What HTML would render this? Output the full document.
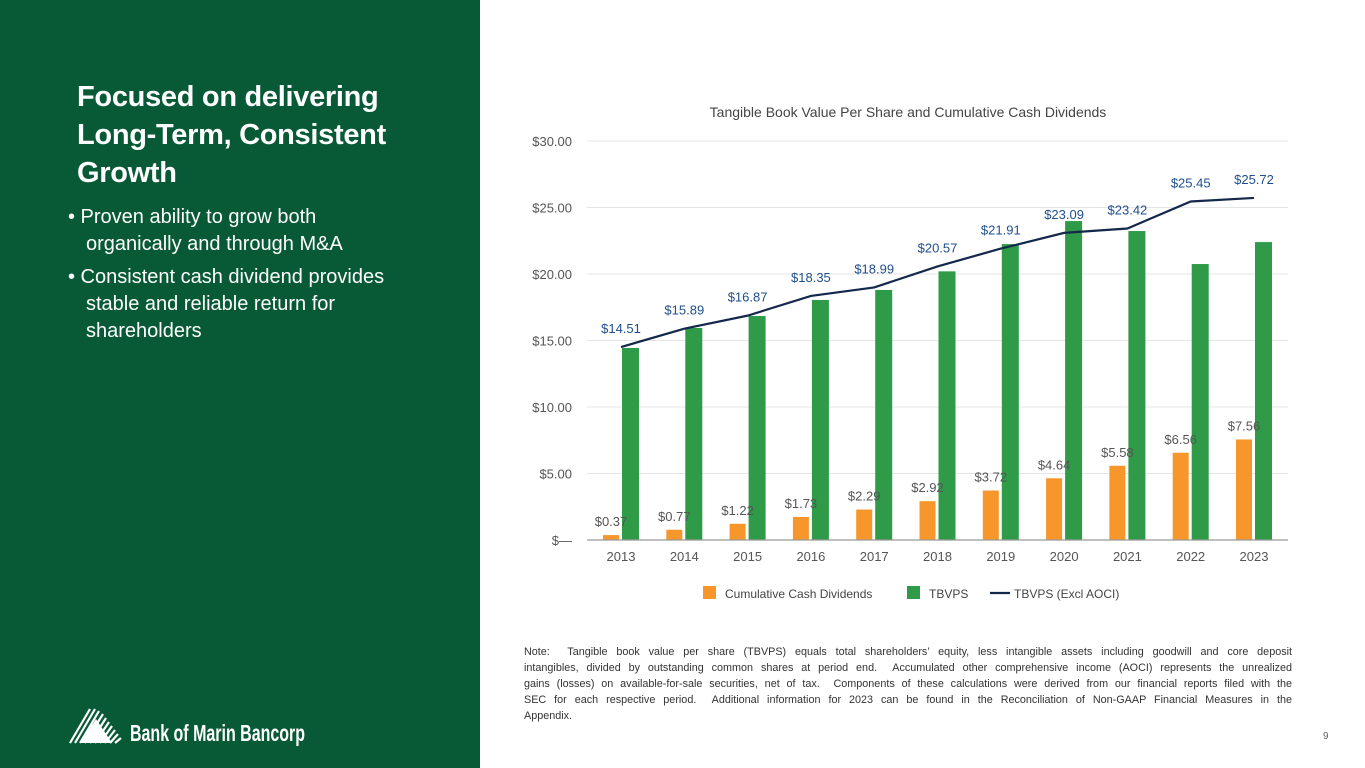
<!DOCTYPE html>
<html><head><meta charset="utf-8"><style>
body{margin:0;width:1365px;height:768px;overflow:hidden;background:#fff;font-family:"Liberation Sans",sans-serif;position:relative}
#panel{position:absolute;left:0;top:0;width:480px;height:768px;background:#085935}
h1{position:absolute;left:77px;top:78px;margin:0;color:#fff;font-size:29px;line-height:38px;font-weight:bold;letter-spacing:-0.3px;width:380px}
ul{position:absolute;left:68px;top:204px;margin:0;padding:0;list-style:none;color:#fff;font-size:20px;line-height:27px;width:400px}
ul li{padding-left:18px;text-indent:-18px;margin-bottom:6px}
#note{position:absolute;left:524px;top:644px;width:768px;font-size:10.8px;line-height:16px;color:#333}
#note div{text-align:justify;text-align-last:justify;white-space:nowrap;overflow:visible}
#note div.last{text-align-last:left}
#pg{position:absolute;left:1323px;top:731px;font-size:10px;color:#666}
#logo{position:absolute;left:68px;top:705px}
</style></head><body>
<div id="panel"></div>
<h1>Focused on delivering Long-Term, Consistent Growth</h1>
<ul>
<li>• Proven ability to grow both<br>organically and through M&amp;A</li>
<li>• Consistent cash dividend provides<br>stable and reliable return for<br>shareholders</li>
</ul>
<svg id="logo" width="250" height="42">
<g stroke="#fff" stroke-width="2.2">
<line x1="2" y1="38" x2="22" y2="4"/><line x1="7" y1="38" x2="27" y2="4"/><line x1="12" y1="38" x2="31" y2="6"/><line x1="17" y1="38" x2="35" y2="9"/><line x1="22" y1="38" x2="38" y2="13"/><line x1="27" y1="38" x2="41" y2="17"/><line x1="32" y1="38" x2="44" y2="21"/><line x1="37" y1="38" x2="47" y2="25"/><line x1="42" y1="38" x2="50" y2="29"/><line x1="47" y1="38" x2="53" y2="33"/>
</g>
<polygon points="12,38 28,14 44,38" fill="#fff"/>
<text x="62" y="36" fill="#fff" font-family="Liberation Sans Narrow, Liberation Sans, sans-serif" font-weight="bold" font-size="23" textLength="175" lengthAdjust="spacingAndGlyphs">Bank of Marin Bancorp</text>
</svg>
<svg id="chart" width="1365" height="768" style="position:absolute;left:0;top:0"></svg>
<div id="note">
<div>Note:&nbsp; Tangible book value per share (TBVPS) equals total shareholders’ equity, less intangible assets including goodwill and core deposit</div>
<div>intangibles, divided by outstanding common shares at period end.&nbsp; Accumulated other comprehensive income (AOCI) represents the unrealized</div>
<div>gains (losses) on available-for-sale securities, net of tax.&nbsp; Components of these calculations were derived from our financial reports filed with the</div>
<div>SEC for each respective period.&nbsp; Additional information for 2023 can be found in the Reconciliation of Non-GAAP Financial Measures in the</div>
<div class="last">Appendix.</div>
</div>
<div id="pg">9</div>
<script>
const years=["2013","2014","2015","2016","2017","2018","2019","2020","2021","2022","2023"];
const dividends=[0.37,0.77,1.22,1.73,2.29,2.92,3.72,4.64,5.58,6.56,7.56];
const tbvps=[14.44,15.94,16.84,18.05,18.8,20.2,22.25,23.98,23.23,20.75,22.4];
const tbvpsExAoci=[14.51,15.89,16.87,18.35,18.99,20.57,21.91,23.09,23.42,25.45,25.72];
const yTicks=[0,5,10,15,20,25,30];
const yTickLabels=["$—","$5.00","$10.00","$15.00","$20.00","$25.00","$30.00"];
const NS="http://www.w3.org/2000/svg";
const svg=document.getElementById('chart');
const y=v=>540-v*(399/30);
const x=i=>621+i*63.3;
function mk(t,a,txt){const e=document.createElementNS(NS,t);for(const k in a)e.setAttribute(k,a[k]);if(txt!=null)e.textContent=txt;svg.appendChild(e);return e;}
let t=mk('text',{x:908,y:117,'text-anchor':'middle','font-size':14,fill:'#444'},'Tangible Book Value Per Share and Cumulative Cash Dividends');


yTicks.forEach((v,i)=>{
 if(v>0){const g=mk('line',{x1:587,x2:1288,y1:y(v),y2:y(v),stroke:'#e6e6e6','stroke-width':1});
 
 }
 const l=mk('text',{x:572,y:y(v)+5,'text-anchor':'end','font-size':13,fill:'#555'},yTickLabels[i]);
 
 
});
years.forEach((yr,i)=>{
 const c=x(i);
 const o=mk('rect',{x:c-18,y:y(dividends[i]),width:16,height:540-y(dividends[i]),fill:'#f7962b'});
 
 
 const g=mk('rect',{x:c+1,y:y(tbvps[i]),width:17,height:540-y(tbvps[i]),fill:'#2f9a48'});
 
 
 const dl=mk('text',{x:c-10,y:y(dividends[i])-9,'text-anchor':'middle','font-size':13,fill:'#555'},'$'+dividends[i].toFixed(2));
 
 
 const xl=mk('text',{x:c,y:561,'text-anchor':'middle','font-size':13,fill:'#555'},yr);
 
 
});
const ax=mk('line',{x1:587,x2:1288,y1:540,y2:540,stroke:'#999','stroke-width':1.2});


const pl=mk('polyline',{points:tbvpsExAoci.map((v,i)=>x(i)+','+y(v)).join(' '),fill:'none',stroke:'#14284b','stroke-width':2.2});


tbvpsExAoci.forEach((v,i)=>{
 const l=mk('text',{x:x(i),y:y(v)-14,'text-anchor':'middle','font-size':13,fill:'#1f4e8c'},'$'+v.toFixed(2));
 
 
});
const leg=[[703,'#f7962b','Cumulative Cash Dividends','rect'],[907,'#2f9a48','TBVPS','rect'],[990,'#14284b','TBVPS (Excl AOCI)','line']];
leg.forEach(([lx,col,lab,kind])=>{
 let m;
 if(kind==='rect')m=mk('rect',{x:lx,y:586,width:13,height:13,fill:col});
 else m=mk('line',{x1:lx,x2:lx+20,y1:593,y2:593,stroke:col,'stroke-width':2.2});
 
 
 const tt=mk('text',{x:lx+(kind==='rect'?22:24),y:598,'font-size':12,fill:'#444'},lab);
 
 
});
</script>
</body></html>
